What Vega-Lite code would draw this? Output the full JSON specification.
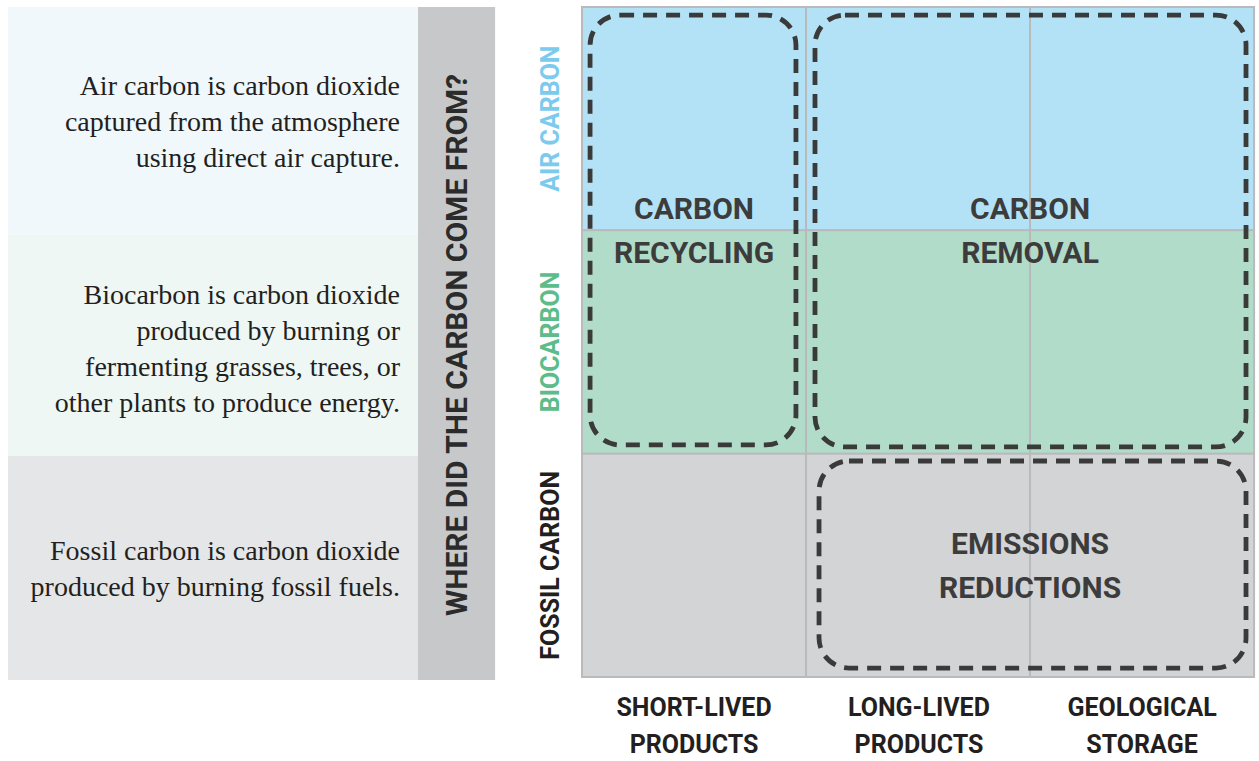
{
  "$schema": "https://vega.github.io/schema/vega-lite/v6.json",
  "width": 1259,
  "height": 761,
  "autosize": {"type": "none"},
  "padding": 0,
  "background": "#ffffff",
  "config": {"view": {"stroke": null}},
  "datasets": {
    "panels": [
      {"zone": "air note", "x": -2.5625, "x2": -0.732, "y": 0.0, "y2": 1.02},
      {"zone": "bio note", "x": -2.5625, "x2": -0.732, "y": 1.02, "y2": 2.01},
      {"zone": "fossil note", "x": -2.5625, "x2": -0.732, "y": 2.01, "y2": 3.013},
      {"zone": "question bar", "x": -0.732, "x2": -0.388, "y": 0.0, "y2": 3.013}
    ],
    "cells": [
      {"zone": "air", "x": 0, "x2": 1, "y": 0, "y2": 1},
      {"zone": "air", "x": 1, "x2": 2, "y": 0, "y2": 1},
      {"zone": "air", "x": 2, "x2": 3, "y": 0, "y2": 1},
      {"zone": "bio", "x": 0, "x2": 1, "y": 1, "y2": 2},
      {"zone": "bio", "x": 1, "x2": 2, "y": 1, "y2": 2},
      {"zone": "bio", "x": 2, "x2": 3, "y": 1, "y2": 2},
      {"zone": "fossil", "x": 0, "x2": 1, "y": 2, "y2": 3},
      {"zone": "fossil", "x": 1, "x2": 2, "y": 2, "y2": 3},
      {"zone": "fossil", "x": 2, "x2": 3, "y": 2, "y2": 3}
    ],
    "groups": [
      {"group": "CARBON RECYCLING", "x": 0.036, "x2": 0.955, "y": 0.036, "y2": 1.961},
      {"group": "CARBON REMOVAL", "x": 1.04, "x2": 2.964, "y": 0.036, "y2": 1.97},
      {"group": "EMISSIONS REDUCTIONS", "x": 1.058, "x2": 2.964, "y": 2.033, "y2": 2.96}
    ],
    "groupLabels": [
      {"label": "CARBON\nRECYCLING", "x": 0.5, "y": 0.909},
      {"label": "CARBON\nREMOVAL", "x": 2.0, "y": 0.909},
      {"label": "EMISSIONS\nREDUCTIONS", "x": 2.0, "y": 2.409}
    ],
    "notes": [
      {"label": "Air carbon is carbon dioxide\ncaptured from the atmosphere\nusing direct air capture.", "x": -0.8125, "y": 0.358},
      {"label": "Biocarbon is carbon dioxide\nproduced by burning or\nfermenting grasses, trees, or\nother plants to produce energy.", "x": -0.8125, "y": 1.294},
      {"label": "Fossil carbon is carbon dioxide\nproduced by burning fossil fuels.", "x": -0.8125, "y": 2.44}
    ],
    "title": [
      {"label": "WHERE DID THE CARBON COME FROM?", "x": -0.554, "y": 1.513}
    ],
    "rowLabels": [
      {"label": "AIR CARBON", "source": "air", "x": -0.138, "y": 0.5},
      {"label": "BIOCARBON", "source": "bio", "x": -0.138, "y": 1.5},
      {"label": "FOSSIL CARBON", "source": "fossil", "x": -0.138, "y": 2.5}
    ],
    "colLabels": [
      {"label": "SHORT-LIVED\nPRODUCTS", "x": 0.5, "y": 3.139},
      {"label": "LONG-LIVED\nPRODUCTS", "x": 1.504, "y": 3.139},
      {"label": "GEOLOGICAL\nSTORAGE", "x": 2.5, "y": 3.139}
    ]
  },
  "encoding": {
    "x": {"field": "x", "type": "quantitative", "axis": null, "scale": {"domain": [-2.598, 3.022], "nice": false, "zero": false}},
    "y": {"field": "y", "type": "quantitative", "axis": null, "scale": {"domain": [-0.0313, 3.3762], "nice": false, "zero": false, "reverse": true}}
  },
  "layer": [
    {
      "data": {"name": "panels"},
      "mark": {"type": "rect"},
      "encoding": {
        "x2": {"field": "x2"},
        "y2": {"field": "y2"},
        "fill": {"field": "zone", "type": "nominal", "legend": null,
          "scale": {"domain": ["air note", "bio note", "fossil note", "question bar", "air", "bio", "fossil"],
                    "range": ["#f0f8fc", "#eef7f4", "#e5e6e8", "#c7c8ca", "#b3e2f7", "#b2dcca", "#d3d4d6"]}}
      }
    },
    {
      "data": {"name": "cells"},
      "mark": {"type": "rect", "stroke": "#b9babc", "strokeWidth": 2},
      "encoding": {
        "x2": {"field": "x2"},
        "y2": {"field": "y2"},
        "fill": {"field": "zone", "type": "nominal", "legend": null}
      }
    },
    {
      "data": {"name": "groups"},
      "mark": {"type": "rect", "filled": false, "color": "#3a3a3a", "strokeWidth": 4.8, "strokeDash": [14, 9], "cornerRadius": 30},
      "encoding": {
        "x2": {"field": "x2"},
        "y2": {"field": "y2"}
      }
    },
    {
      "data": {"name": "groupLabels"},
      "mark": {"type": "text", "align": "center", "baseline": "middle", "lineBreak": "\n", "lineHeight": 44, "fontSize": 30, "fontWeight": "bold", "font": "Roboto, sans-serif", "color": "#3c3c3c"},
      "encoding": {"text": {"field": "label"}}
    },
    {
      "data": {"name": "notes"},
      "mark": {"type": "text", "align": "right", "baseline": "middle", "lineBreak": "\n", "lineHeight": 36, "fontSize": 28, "font": "'Liberation Serif', serif", "color": "#231f20"},
      "encoding": {"text": {"field": "label"}}
    },
    {
      "data": {"name": "title"},
      "mark": {"type": "text", "align": "center", "baseline": "middle", "angle": 270, "fontSize": 30, "fontWeight": "bold", "font": "Roboto, sans-serif", "color": "#2b2b2b"},
      "encoding": {"text": {"field": "label"}}
    },
    {
      "data": {"name": "rowLabels"},
      "mark": {"type": "text", "align": "center", "baseline": "middle", "angle": 270, "fontSize": 25, "fontWeight": "bold", "font": "Roboto, sans-serif"},
      "encoding": {
        "text": {"field": "label"},
        "color": {"field": "source", "type": "nominal", "legend": null,
          "scale": {"domain": ["air", "bio", "fossil"], "range": ["#7ccbee", "#5cbc8a", "#231f20"]}}
      }
    },
    {
      "data": {"name": "colLabels"},
      "mark": {"type": "text", "align": "center", "baseline": "middle", "lineBreak": "\n", "lineHeight": 37, "fontSize": 25, "fontWeight": "bold", "font": "Roboto, sans-serif", "color": "#231f20"},
      "encoding": {"text": {"field": "label"}}
    }
  ]
}
